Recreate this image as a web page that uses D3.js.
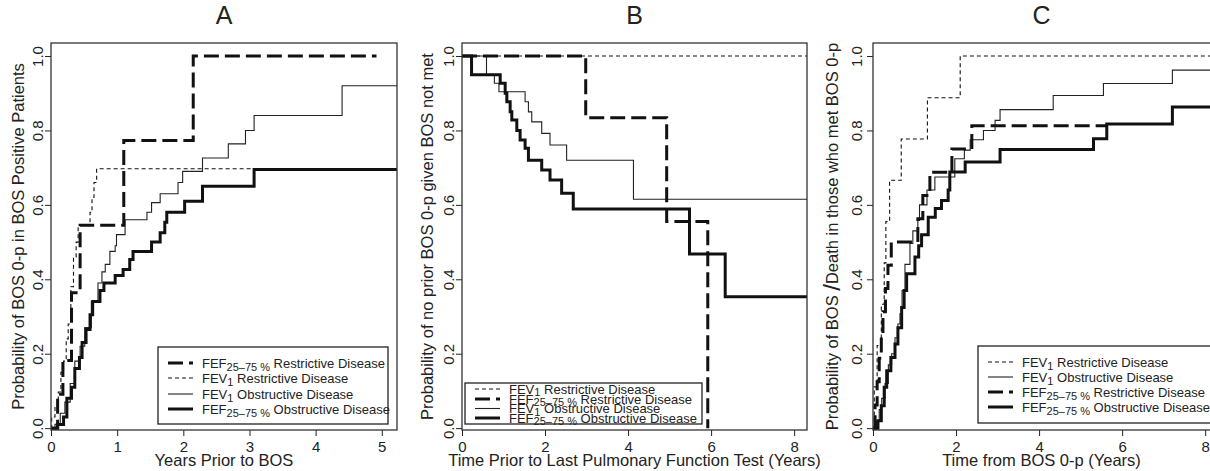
<!DOCTYPE html>
<html>
<head>
<meta charset="utf-8">
<script src="https://cdn.jsdelivr.net/npm/d3@7"></script>
<style>
	body { margin: 0; background: #fff; }
	svg { font-family: "Liberation Sans", Arial, sans-serif; }
</style>
</head>
<body>
<svg id="chart" width="1210" height="471"></svg>
<script>
// Panel A: cumulative probability of BOS 0-p, by years prior to BOS  [years, probability]
const aFefRestrictive = [[0,0],[0.1,0.091],[0.18,0.182],[0.31,0.364],[0.44,0.545],[1.1,0.773],[2.15,1.0],[4.92,1.0]];
const aFev1Restrictive = [[0,0],[0.01,0.03],[0.06,0.06],[0.11,0.097],[0.15,0.15],[0.19,0.18],[0.23,0.24],[0.26,0.28],[0.3,0.38],[0.34,0.46],[0.38,0.5],[0.41,0.545],[0.59,0.58],[0.62,0.62],[0.65,0.66],[0.69,0.697],[5.23,0.697]];
const aFev1Obstructive = [[0,0],[0.06,0.01],[0.14,0.04],[0.21,0.07],[0.29,0.12],[0.36,0.18],[0.44,0.22],[0.51,0.27],[0.61,0.34],[0.71,0.39],[0.77,0.42],[0.82,0.44],[0.89,0.475],[0.97,0.49],[0.99,0.52],[1.12,0.56],[1.45,0.58],[1.52,0.606],[1.65,0.63],[1.92,0.66],[1.99,0.69],[2.29,0.726],[2.68,0.764],[2.94,0.8],[3.07,0.84],[4.4,0.92],[5.23,0.92]];
const aFefObstructive = [[0,0],[0.1,0.01],[0.19,0.03],[0.24,0.08],[0.31,0.11],[0.36,0.16],[0.43,0.19],[0.47,0.23],[0.53,0.265],[0.59,0.305],[0.63,0.34],[0.74,0.37],[0.8,0.39],[0.97,0.41],[1.09,0.426],[1.19,0.453],[1.24,0.475],[1.52,0.5],[1.65,0.525],[1.72,0.553],[1.75,0.58],[2.02,0.61],[2.29,0.65],[3.07,0.695],[5.23,0.695]];

// Panel B: probability of no prior BOS 0-p, by time prior to last PFT
const bFev1Restrictive = [[0,1],[8.31,1]];
const bFefRestrictive = [[0,1],[2.98,0.834],[4.93,0.555],[5.92,0]];
const bFev1Obstructive = [[0,1],[0.59,0.95],[0.78,0.927],[0.89,0.904],[1.52,0.877],[1.6,0.85],[1.68,0.823],[1.92,0.792],[2.12,0.761],[2.52,0.72],[4.13,0.615],[8.31,0.615]];
const bFefObstructive = [[0,1],[0.23,0.95],[0.92,0.927],[1.04,0.9],[1.08,0.877],[1.16,0.85],[1.2,0.828],[1.32,0.8],[1.4,0.774],[1.52,0.752],[1.6,0.72],[1.92,0.694],[2.12,0.667],[2.4,0.631],[2.68,0.589],[5.48,0.468],[6.34,0.353],[8.31,0.353]];

// Panel C: probability of BOS / death after BOS 0-p
const cFev1Restrictive = [[0,0],[0.03,0.111],[0.1,0.222],[0.2,0.333],[0.27,0.444],[0.31,0.555],[0.4,0.666],[0.68,0.777],[1.31,0.888],[2.1,1.0],[8.2,1.0]];
const cFev1Obstructive = [[0,0],[0.08,0.02],[0.15,0.05],[0.21,0.08],[0.29,0.12],[0.37,0.17],[0.45,0.2],[0.53,0.243],[0.6,0.28],[0.65,0.307],[0.7,0.37],[0.77,0.44],[0.89,0.496],[0.96,0.53],[1.08,0.558],[1.12,0.6],[1.3,0.64],[1.49,0.675],[1.97,0.724],[2.2,0.747],[2.34,0.775],[2.66,0.8],[2.94,0.827],[3.06,0.856],[4.34,0.894],[5.55,0.926],[7.21,0.962],[8.2,0.962]];
const cFefRestrictive = [[0,0],[0.05,0.0625],[0.1,0.125],[0.15,0.1875],[0.2,0.25],[0.24,0.3125],[0.3,0.375],[0.36,0.4375],[0.44,0.5],[1.08,0.5625],[1.2,0.625],[1.37,0.6875],[1.9,0.75],[2.38,0.8125],[5.63,0.8125]];
const cFefObstructive = [[0,0],[0.12,0.02],[0.2,0.06],[0.27,0.11],[0.33,0.154],[0.43,0.19],[0.53,0.226],[0.6,0.27],[0.69,0.324],[0.75,0.37],[0.81,0.415],[1.01,0.46],[1.1,0.49],[1.17,0.52],[1.33,0.567],[1.5,0.59],[1.65,0.612],[1.81,0.64],[1.85,0.688],[2.22,0.715],[3.06,0.749],[5.31,0.778],[5.63,0.817],[7.21,0.863],[8.2,0.863]];

const yTicks = [0, 0.2, 0.4, 0.6, 0.8, 1.0];
const aXTicks = [0, 1, 2, 3, 4, 5];
const bXTicks = [0, 2, 4, 6, 8];
const cXTicks = [0, 2, 4, 6, 8];

const styles = {
	fefR: { width: 3, dash: '15,6', color: '#111', label: ['FEF', '25\u201375 %', ' Restrictive Disease'] },
	fev1R: { width: 1.1, dash: '4,3', color: '#111', label: ['FEV', '1', ' Restrictive Disease'] },
	fev1O: { width: 1.1, dash: null, color: '#222', label: ['FEV', '1', ' Obstructive Disease'] },
	fefO: { width: 3, dash: null, color: '#111', label: ['FEF', '25\u201375 %', ' Obstructive Disease'] }
};

const panels = [
	{
		title: 'A', left: 51, right: 397, xMax: 5.23, xTicks: aXTicks, yLabelX: 24, tickLabelX: 43,
		xLabel: 'Years Prior to BOS',
		yLabel: ['Probability of BOS 0-p in BOS Positive Patients'],
		series: [['fev1R', aFev1Restrictive], ['fev1O', aFev1Obstructive], ['fefO', aFefObstructive], ['fefR', aFefRestrictive]],
		legend: { x: 158, y: 347, w: 230, h: 77, rows: [363, 378, 394, 409], order: ['fefR', 'fev1R', 'fev1O', 'fefO'], subDy: 3.5 }
	},
	{
		title: 'B', left: 462, right: 807, xMax: 8.31, xTicks: bXTicks, yLabelX: 433, tickLabelX: 454,
		xLabel: 'Time Prior to Last Pulmonary Function Test (Years)',
		yLabel: ['Probability of no prior BOS 0-p given BOS not met'],
		series: [['fev1R', bFev1Restrictive], ['fev1O', bFev1Obstructive], ['fefO', bFefObstructive], ['fefR', bFefRestrictive]],
		legend: { x: 465, y: 383, w: 237, h: 41, rows: [389, 399, 408.5, 418], order: ['fev1R', 'fefR', 'fev1O', 'fefO'], subDy: 2.5 }
	},
	{
		title: 'C', left: 873, right: 1211, xMax: 8.14, xTicks: cXTicks, yLabelX: 838, tickLabelX: 862,
		xLabel: 'Time from BOS 0-p (Years)',
		yLabel: ['Probability of BOS ', '/', 'Death in those who met BOS 0-p'],
		series: [['fev1R', cFev1Restrictive], ['fev1O', cFev1Obstructive], ['fefO', cFefObstructive], ['fefR', cFefRestrictive]],
		legend: { x: 978, y: 346, w: 240, h: 77, rows: [362, 377, 392, 407], order: ['fev1R', 'fev1O', 'fefR', 'fefO'], subDy: 3.5 }
	}
];

const plotTop = 43, plotBottom = 430;
const svg = d3.select('#chart');

function addLabel(textSel, parts, subDy) {
	textSel.append('tspan').text(parts[0]);
	textSel.append('tspan').attr('font-size', 11).attr('dy', subDy).text(parts[1]);
	textSel.append('tspan').attr('dy', -subDy).text(parts[2]);
}

function drawPanel(p) {
	const x = d3.scaleLinear().domain([0, p.xMax]).range([p.left, p.right]);
	const y = d3.scaleLinear().domain([-0.005, 1.035]).range([plotBottom, plotTop]);
	const g = svg.append('g');

	const clipId = 'clip' + p.title;
	g.append('clipPath').attr('id', clipId)
		.append('rect')
		.attr('x', p.left).attr('y', plotTop)
		.attr('width', p.right - p.left).attr('height', plotBottom - plotTop);

	const line = d3.line()
		.x(d => x(d[0]))
		.y(d => y(d[1]))
		.curve(d3.curveStepAfter);

	p.series.forEach(([key, data]) => {
		const s = styles[key];
		g.append('path')
			.attr('clip-path', `url(#${clipId})`)
			.attr('d', line(data))
			.attr('fill', 'none')
			.attr('stroke', s.color)
			.attr('stroke-width', s.width)
			.attr('stroke-dasharray', s.dash);
	});

	// axes
	const xAxis = g.append('g')
		.attr('transform', `translate(0,${plotBottom})`)
		.call(d3.axisBottom(x).tickValues(p.xTicks).tickFormat(d3.format('d')).tickSize(6).tickPadding(5).tickSizeOuter(0));
	xAxis.select('.domain').remove();

	const yAxis = g.append('g')
		.attr('transform', `translate(${p.left},0)`)
		.call(d3.axisLeft(y).tickValues(yTicks).tickFormat(d3.format('.1f')).tickSize(6).tickSizeOuter(0));
	yAxis.select('.domain').remove();
	yAxis.selectAll('text')
		.attr('x', null).attr('dy', null)
		.attr('text-anchor', 'middle')
		.attr('transform', `translate(${p.tickLabelX - p.left},0) rotate(-90)`);

	g.selectAll('.tick line').attr('stroke', '#222');
	g.selectAll('.tick text').attr('font-size', 15).attr('fill', '#222').attr('font-family', null);

	// frame
	g.append('rect')
		.attr('x', p.left).attr('y', plotTop)
		.attr('width', p.right - p.left).attr('height', plotBottom - plotTop)
		.attr('fill', 'none').attr('stroke', '#333').attr('stroke-width', 1.3);

	// titles and labels
	g.append('text')
		.attr('x', (p.left + Math.min(p.right, 1210)) / 2).attr('y', 24)
		.attr('text-anchor', 'middle').attr('font-size', 25).attr('fill', '#222')
		.text(p.title);

	g.append('text')
		.attr('x', (p.left + Math.min(p.right, 1210)) / 2).attr('y', 466)
		.attr('text-anchor', 'middle').attr('font-size', 16.5).attr('fill', '#222')
		.text(p.xLabel);

	const yl = g.append('text')
		.attr('transform', `translate(${p.yLabelX},${(plotTop + plotBottom) / 2}) rotate(-90)`)
		.attr('text-anchor', 'middle').attr('font-size', 16.5).attr('fill', '#222');
	yl.append('tspan').text(p.yLabel[0]);
	if (p.yLabel.length > 1) {
		yl.append('tspan').attr('font-size', 24).attr('dy', 2).text(p.yLabel[1]);
		yl.append('tspan').attr('dy', -2).text(p.yLabel[2]);
	}

	// legend
	const lg = p.legend;
	g.append('rect')
		.attr('x', lg.x).attr('y', lg.y).attr('width', lg.w).attr('height', lg.h)
		.attr('fill', '#fff').attr('stroke', '#222').attr('stroke-width', 1.3);

	lg.order.forEach((key, i) => {
		const s = styles[key];
		const ry = lg.rows[i];
		g.append('line')
			.attr('x1', lg.x + 10).attr('x2', lg.x + 35)
			.attr('y1', ry).attr('y2', ry)
			.attr('stroke', s.color).attr('stroke-width', s.width)
			.attr('stroke-dasharray', s.dash);
		const t = g.append('text')
			.attr('x', lg.x + 44).attr('y', ry + 4.5)
			.attr('font-size', 13).attr('fill', '#222');
		addLabel(t, s.label, lg.subDy);
	});
}

panels.forEach(drawPanel);
</script>
</body>
</html>
